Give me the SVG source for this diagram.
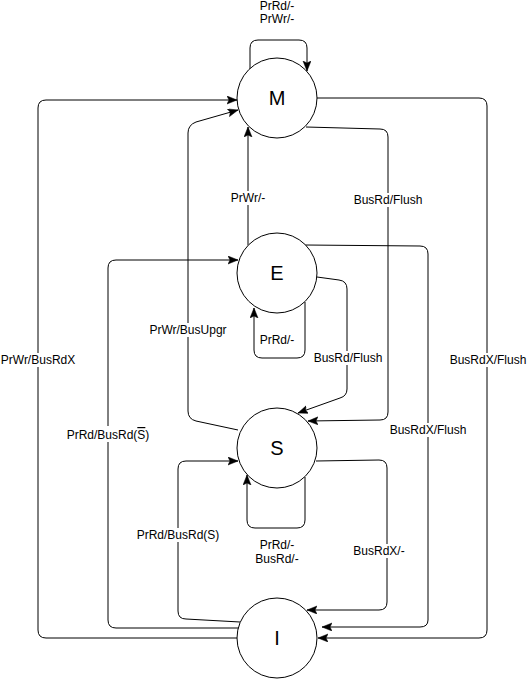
<svg xmlns="http://www.w3.org/2000/svg" width="527" height="679" viewBox="0 0 527 679">
<style>
.node{fill:#fff;stroke:#000;stroke-width:1}
.nt{font-family:"Liberation Sans",Arial,sans-serif;font-size:20px;fill:#000;text-anchor:middle;dominant-baseline:central}
.e{fill:none;stroke:#000;stroke-width:1;marker-end:url(#arr)}
.lb{font-family:"Liberation Sans",Arial,sans-serif;font-size:12px;fill:#000;text-anchor:middle;dominant-baseline:central}
.bg{fill:#fff}
</style>
<defs>
<marker id="arr" markerUnits="userSpaceOnUse" markerWidth="12" markerHeight="10" refX="10" refY="4" orient="auto">
<path d="M0,0 L10,4 L0,8 L2,4 Z" fill="#000" stroke="#000" stroke-width="0.5"/>
</marker>
</defs>
<rect width="527" height="679" fill="#fff"/>
<g id="connectors">
<path class="e" d="M250,69 L250,48 Q250,40 258,40 L299,40 Q307,40 307,48 L307,71"/>
<path class="e" d="M317,98 L479,98 Q487,98 487,106 L487,630 Q487,638 479,638 L318,638"/>
<path class="e" d="M306,127 L380,129 Q388,129 388,137 L388,412 Q388,420 380,420 L308,421"/>
<path class="e" d="M248,245 L248,127"/>
<path class="e" d="M305,302 L305,350 Q305,358 297,358 L262,358 Q254,358 254,350 L254,308"/>
<path class="e" d="M317,277 L339,280 Q347,281 347,289 L347,389 Q347,396 340,398 L298,413"/>
<path class="e" d="M305,245 L420,246 Q428,246 428,254 L428,620 Q428,627 420,627 L322,627"/>
<path class="e" d="M238,430 L196,421 Q188,419 188,411 L188,133 Q188,125 196,122 L238,110"/>
<path class="e" d="M239,628 L116,628 Q108,628 108,620 L108,268 Q108,260 116,260 L238,260"/>
<path class="e" d="M240,622 L186,619 Q178,619 178,611 L178,469 Q178,461 186,461 L238,461"/>
<path class="e" d="M305,477 L305,520 Q305,528 297,528 L255,528 Q247,528 247,520 L247,475"/>
<path class="e" d="M316,461 L379,460 Q387,460 387,468 L387,602 Q387,610 379,610 L307,610"/>
<path class="e" d="M238,638 L46,638 Q38,638 38,630 L38,108 Q38,100 46,100 L237,100"/>
</g>
<g id="labels">
<text class="lb" x="277" y="6">PrRd/-</text>
<text class="lb" x="277" y="19">PrWr/-</text>
<rect class="bg" x="451" y="353" width="74" height="14"/>
<text class="lb" x="488" y="360">BusRdX/Flush</text>
<rect class="bg" x="353" y="193" width="70" height="14"/>
<text class="lb" x="388" y="200">BusRd/Flush</text>
<rect class="bg" x="229" y="191" width="38" height="14"/>
<text class="lb" x="248" y="198">PrWr/-</text>
<text class="lb" x="277" y="340">PrRd/-</text>
<rect class="bg" x="313" y="351" width="70" height="14"/>
<text class="lb" x="348" y="358">BusRd/Flush</text>
<rect class="bg" x="391" y="423" width="74" height="14"/>
<text class="lb" x="428" y="430">BusRdX/Flush</text>
<rect class="bg" x="147" y="323" width="82" height="14"/>
<text class="lb" x="188" y="330">PrWr/BusUpgr</text>
<rect class="bg" x="66" y="426" width="84" height="16"/>
<text class="lb" x="108" y="435">PrRd/BusRd(<tspan text-decoration="overline">S</tspan>)</text>
<rect class="bg" x="137" y="528" width="82" height="14"/>
<text class="lb" x="178" y="535">PrRd/BusRd(S)</text>
<text class="lb" x="277" y="545">PrRd/-</text>
<text class="lb" x="277" y="559">BusRd/-</text>
<rect class="bg" x="352" y="544" width="54" height="14"/>
<text class="lb" x="379" y="551">BusRdX/-</text>
<rect class="bg" x="1" y="353" width="74" height="14"/>
<text class="lb" x="38" y="360">PrWr/BusRdX</text>
</g>
<g id="node-M"><circle class="node" cx="277" cy="98" r="40"/><text class="nt" x="277" y="98">M</text></g>
<g id="node-E"><circle class="node" cx="277" cy="273" r="40"/><text class="nt" x="277" y="273">E</text></g>
<g id="node-S"><circle class="node" cx="277" cy="448" r="40"/><text class="nt" x="277" y="448">S</text></g>
<g id="node-I"><circle class="node" cx="277" cy="638" r="40"/><text class="nt" x="277" y="638">I</text></g>
</svg>
